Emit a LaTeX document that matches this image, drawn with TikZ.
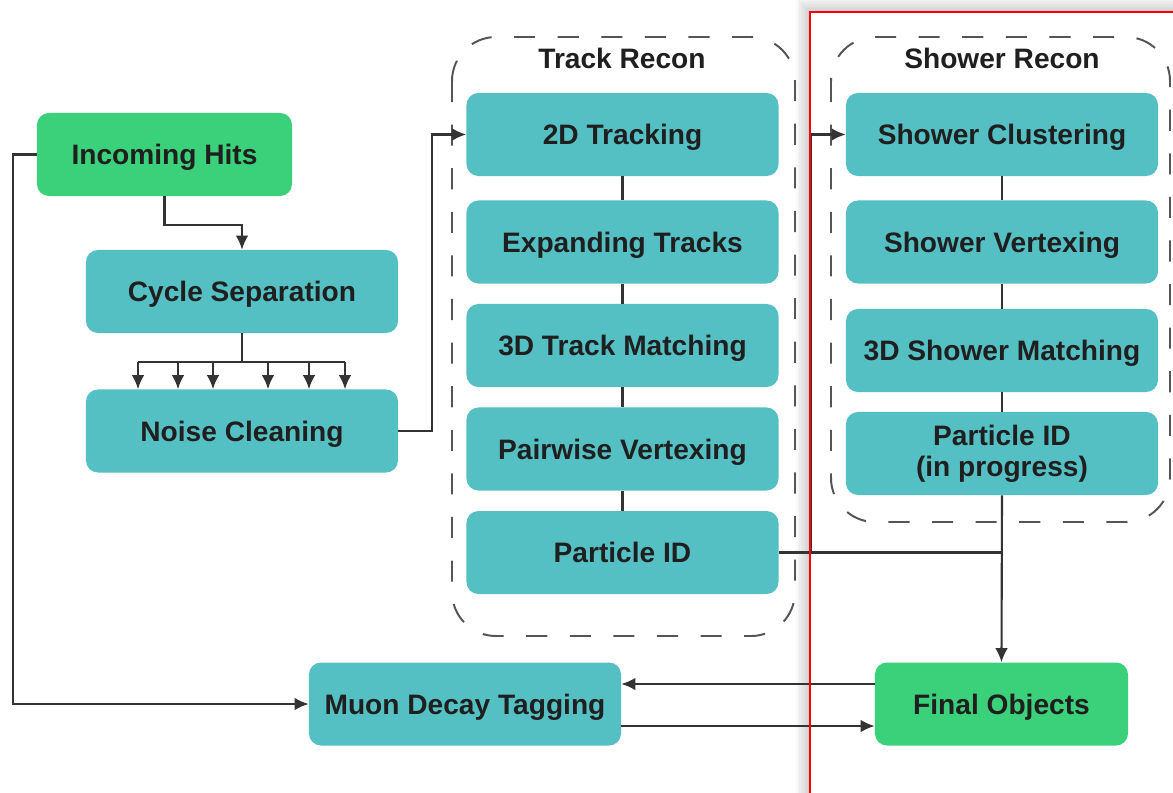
\documentclass[tikz,border=0pt]{standalone}
\usepackage{fontspec}
\setmainfont{Liberation Sans}
\usetikzlibrary{arrows.meta}
\definecolor{boxteal}{RGB}{85,192,195}
\definecolor{boxgreen}{RGB}{59,208,122}
\definecolor{framegray}{RGB}{85,85,85}

\begin{document}
\begin{tikzpicture}[x=0.025cm, y=-0.025cm,
    stage/.style={fill=boxteal, rounded corners=0.3cm, minimum width=7.8cm, minimum height=2.075cm, align=center, inner sep=0pt, text height=18.5pt, text depth=4.2pt},
    endpoint/.style={stage, fill=boxgreen, minimum width=6.35cm},
    twoline/.style={text height=, text depth=},
    wire/.style={draw=black!80, line width=1.5pt},
    conn/.style={wire, -{Latex[length=10pt,width=9pt]}},
    group/.style={draw=framegray, line width=1.4pt, dash pattern=on 15pt off 16pt, rounded corners=1.1cm}]
\tikzstyle{every node}=[font=\fontsize{20}{22}\selectfont\bfseries, text=black!88]

   \useasboundingbox (0,0) rectangle (1173,792);

   % Highlight panel (shadow)
    \foreach \s in {1,...,8}
      \draw[black, opacity=0.025, line width=\s*2.5pt] (810,12) rectangle (1200,820);
    \fill[white] (810,12) rectangle (1200,820);

   % Groups
    \draw[group] (452,37) rectangle (795,636);
    \draw[group] (831,37) rectangle (1170,522);
    \node (trackttl) at (622,58) {Track Recon};
    \node (showerttl) at (1002,58) {Shower Recon};

   % Boxes
    \node[endpoint, minimum width=6.375cm] (hits) at (164.5,154.5) {Incoming Hits};
    \node[stage] (cycle) at (242,291.5) {Cycle Separation};
    \node[stage] (noise) at (242,431) {Noise Cleaning};

    \foreach \y/\nm/\txt in {134.5/t1/2D Tracking, 242/t2/Expanding Tracks,
        345.5/t3/3D Track Matching, 449/t4/Pairwise Vertexing, 552.5/t5/Particle ID}
      \node[stage] (\nm) at (622.5,\y) {\txt};

    \foreach \y/\nm/\txt in {134.5/s1/Shower Clustering, 242/s2/Shower Vertexing,
        350.5/s3/3D Shower Matching}
      \node[stage] (\nm) at (1002,\y) {\txt};
    \node[stage, twoline] (s4) at (1002,453.5) {Particle ID\\(in progress)};

    \node[endpoint, minimum width=6.325cm] (final) at (1001.5,704) {Final Objects};
    \node[stage] (muon) at (465,704) {Muon Decay Tagging};

   % Connectors
    \draw[conn] (hits.south) -- ++(0,29) -| (cycle.north);
    \draw[wire] (cycle.south) -- ++(0,29) coordinate (fan);
    \draw[wire] (fan -| 138,0) -- (fan -| 345,0);
    \foreach \x in {138,178,213,268,309,345}
      \draw[conn] (fan -| \x,0) -- (noise.north -| \x,0);

    \draw[conn] (noise.east) -- ++(34,0) |- (t1.west);
    \draw[conn] (hits.west) -- ++(-24,0) |- (muon.west);

    \foreach \a/\b in {t1/t2, t2/t3, t3/t4, t4/t5, s1/s2, s2/s3, s3/s4}
      \draw[wire] (\a) -- (\b);

    \draw[conn] (t5.east) -- ++(32,0) coordinate (jn) |- (s1.west);
    \draw[wire] (jn) -- (jn -| s4.south);
    \draw[conn] (s4.south) -- (final.north);

    \draw[conn] ([yshift=0.5cm]final.west) -- ([yshift=0.5cm]muon.east);
    \draw[conn] ([yshift=-0.55cm]muon.east) -- ([yshift=-0.55cm]final.west);

   % Highlight panel (outline)
    \draw[red, line width=1.3pt] (810,12) rectangle (1200,820);

\end{tikzpicture}
\end{document}
